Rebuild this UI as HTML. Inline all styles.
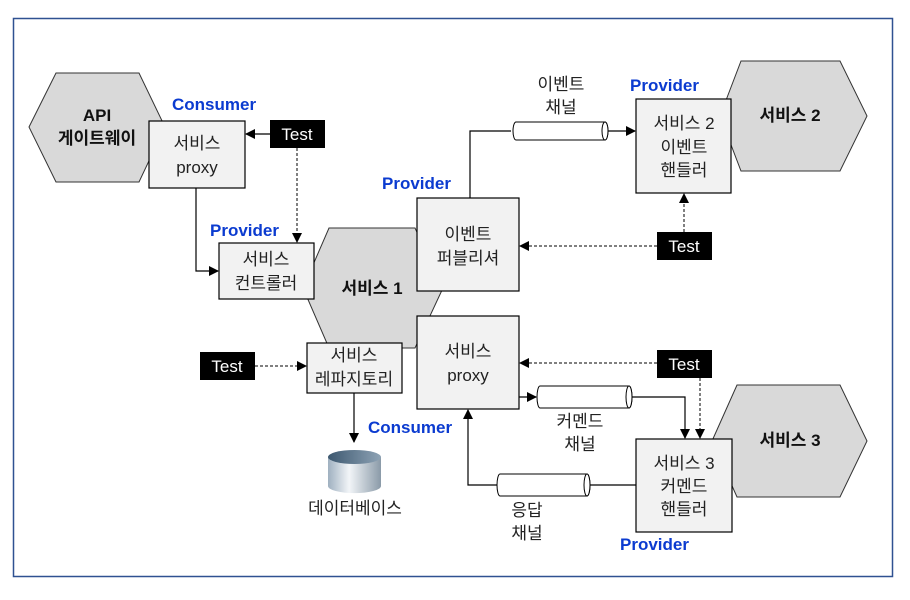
<!DOCTYPE html>
<html><head><meta charset="utf-8"><style>
body{margin:0;background:#fff}
svg text{font-family:"Liberation Sans","Noto Sans CJK KR",sans-serif}
</style></head><body>
<svg width="910" height="595" viewBox="0 0 910 595" xmlns="http://www.w3.org/2000/svg">
<defs>
<marker id="a" markerWidth="10" markerHeight="10" refX="9" refY="5" orient="auto" markerUnits="userSpaceOnUse"><path d="M0,0 L10,5 L0,10z" fill="#000"/></marker>
<linearGradient id="db" x1="0" x2="1"><stop offset="0" stop-color="#9fb0c0"/><stop offset="0.4" stop-color="#f2f5f8"/><stop offset="1" stop-color="#8a9aa8"/></linearGradient>
<linearGradient id="dbt" x1="0" x2="1"><stop offset="0" stop-color="#3d5870"/><stop offset="1" stop-color="#8ea3b5"/></linearGradient>
</defs>
<rect x="13.5" y="18.5" width="879" height="558" fill="#fff" stroke="#2f5191" stroke-width="1.5"/>
<g stroke="#333" fill="#d9d9d9">
<polygon points="29,127 56,73 139,73 165,127 139,182 56,182"/>
<polygon points="303,288 329,228 415,228 443,288 415,348 329,348"/>
<polygon points="720,116 741,61 840,61 867,116 840,171 741,171"/>
<polygon points="712,441 737,385 840,385 867,441 840,497 737,497"/>
</g>
<g font-weight="bold" font-size="17" text-anchor="middle" fill="#111">
<text x="97" y="121">API</text><text x="97" y="144">게이트웨이</text>
<text x="372" y="294">서비스 1</text>
<text x="790" y="121">서비스 2</text>
<text x="790" y="446">서비스 3</text>
</g>
<g stroke="#000" fill="#f2f2f2" stroke-width="1.2">
<rect x="149" y="121" width="96" height="67"/>
<rect x="219" y="243" width="95" height="56"/>
<rect x="417" y="198" width="102" height="93"/>
<rect x="417" y="316" width="102" height="93"/>
<rect x="307" y="343" width="95" height="50"/>
<rect x="636" y="99" width="95" height="94"/>
<rect x="636" y="439" width="96" height="93"/>
</g>
<g fill="#000">
<rect x="270" y="120" width="55" height="28"/>
<rect x="657" y="232" width="55" height="28"/>
<rect x="200" y="352" width="55" height="28"/>
<rect x="657" y="350" width="55" height="28"/>
</g>
<g fill="#fff" font-size="17" text-anchor="middle">
<text x="297" y="140">Test</text><text x="684" y="252">Test</text>
<text x="227" y="372">Test</text><text x="684" y="370">Test</text>
</g>
<g font-size="17" text-anchor="middle" fill="#222">
<text x="197" y="149">서비스</text><text x="197" y="173">proxy</text>
<text x="266" y="265">서비스</text><text x="266" y="289">컨트롤러</text>
<text x="468" y="240">이벤트</text><text x="468" y="264">퍼블리셔</text>
<text x="468" y="357">서비스</text><text x="468" y="381">proxy</text>
<text x="354" y="361">서비스</text><text x="354" y="385">레파지토리</text>
<text x="684" y="129">서비스 2</text><text x="684" y="153">이벤트</text><text x="684" y="176">핸들러</text>
<text x="684" y="469">서비스 3</text><text x="684" y="492">커멘드</text><text x="684" y="515">핸들러</text>
<text x="561" y="90">이벤트</text><text x="561" y="113">채널</text>
<text x="580" y="427">커멘드</text><text x="580" y="450">채널</text>
<text x="527" y="516">응답</text><text x="527" y="539">채널</text>
<text x="355" y="514">데이터베이스</text>
</g>
<g font-weight="bold" font-size="17" fill="#0b3bd0">
<text x="172" y="110">Consumer</text>
<text x="210" y="236">Provider</text>
<text x="382" y="189">Provider</text>
<text x="630" y="91">Provider</text>
<text x="368" y="433">Consumer</text>
<text x="620" y="550">Provider</text>
</g>
<g stroke="#000" fill="none" stroke-width="1.2">
<line x1="270" y1="134" x2="246" y2="134" marker-end="url(#a)"/>
<polyline points="196,188 196,271 218,271" marker-end="url(#a)"/>
<polyline points="470,198 470,131 511,131"/>
<line x1="608" y1="131" x2="635" y2="131" marker-end="url(#a)"/>
<line x1="354" y1="393" x2="354" y2="442" marker-end="url(#a)"/>
<line x1="519" y1="397" x2="536" y2="397" marker-end="url(#a)"/>
<polyline points="632,397 685,397 685,438" marker-end="url(#a)"/>
<line x1="636" y1="485" x2="590" y2="485"/>
<polyline points="497,485 468,485 468,410" marker-end="url(#a)"/>
</g>
<g stroke="#000" fill="none" stroke-width="1" stroke-dasharray="3,2">
<line x1="297" y1="148" x2="297" y2="242" marker-end="url(#a)"/>
<line x1="684" y1="232" x2="684" y2="194" marker-end="url(#a)"/>
<line x1="657" y1="246" x2="520" y2="246" marker-end="url(#a)"/>
<line x1="255" y1="366" x2="306" y2="366" marker-end="url(#a)"/>
<line x1="657" y1="363" x2="520" y2="363" marker-end="url(#a)"/>
<line x1="700" y1="378" x2="700" y2="438" marker-end="url(#a)"/>
</g>
<g stroke="#000" fill="#fff" stroke-width="1">
<path d="M516,122 H605 A3,9 0 0 1 605,140 H516 A3,9 0 0 1 516,122z"/><ellipse cx="605" cy="131" rx="3" ry="9"/>
<path d="M540,386 H629 A3,11 0 0 1 629,408 H540 A3,11 0 0 1 540,386z"/><ellipse cx="629" cy="397" rx="3" ry="11"/>
<path d="M500,474 H587 A3,11 0 0 1 587,496 H500 A3,11 0 0 1 500,474z"/><ellipse cx="587" cy="485" rx="3" ry="11"/>
</g>
<path d="M328,457 V486 A26,7 0 0 0 381,486 V457z" fill="url(#db)"/>
<ellipse cx="354.5" cy="457" rx="26.5" ry="7" fill="url(#dbt)"/>
</svg>
</body></html>
